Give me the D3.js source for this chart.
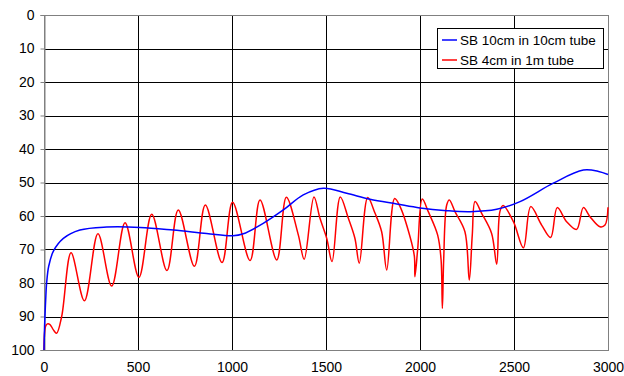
<!DOCTYPE html>
<html lang="en">
<head>
  <meta charset="UTF-8">
  <title>SB tube response</title>
  <script src="https://d3js.org/d3.v7.min.js"></script>
  <style>
    body { margin: 0; background: #fff; }
    svg text { font-family: Arial, "Liberation Sans", sans-serif; fill: #000; }
  </style>
</head>
<body>
<div id="chart"></div>
<script>
  // tick labels
  var xTicks = [0, 500, 1000, 1500, 2000, 2500, 3000];
  var yTicks = [0, 10, 20, 30, 40, 50, 60, 70, 80, 90, 100];

  // series: [x, value]
  var seriesNames = ["SB 10cm in 10cm tube", "SB 4cm in 1m tube"];
  var seriesColors = ["#0000ff", "#ff0000"];

  var blueData = [
    [0, 100], [3, 93], [5, 90], [9, 85], [14, 80], [25, 75], [50, 70.5], [103, 66.7],
    [191, 64.2], [333, 63.3], [511, 63.4], [688, 64.2], [865, 65.2], [1005, 65.9],
    [1060, 65.3], [1166, 62.2], [1273, 58.2], [1379, 53.7], [1486, 51.7], [1610, 53.2],
    [1734, 55], [1876, 56.4], [2000, 57.6], [2142, 58.4], [2266, 58.7], [2408, 58],
    [2532, 55.7], [2709, 50.2], [2869, 46.3], [2950, 46.7], [3000, 47.6]
  ];

  var redData = [
    [0, 100], [8, 93], [18, 92.2], [32, 92.4], [50, 94], [67, 95], [94, 90], [144, 71],
    [215, 85.3], [287, 65.3], [360, 80.9], [431, 62], [505, 78.3], [573, 59.5],
    [654, 76.3], [714, 58.2], [800, 75], [858, 56.7], [947, 73.9], [1003, 55.9],
    [1096, 73.3], [1149, 55.2], [1238, 73.1], [1289, 54.4], [1353, 65.7], [1384, 72.9],
    [1436, 54.3], [1468, 60.7], [1504, 66.7], [1532, 73.6], [1576, 54.3], [1619, 60.7],
    [1654, 66.7], [1677, 74.1], [1722, 54.5], [1761, 59.2], [1796, 64.7], [1823, 76.1],
    [1865, 54.8], [1894, 57.2], [1947, 66.2], [1970, 72], [1973, 78.1], [1988, 69.7],
    [2012, 54.9], [2044, 58.7], [2094, 65.7], [2112, 73], [2119, 87.6], [2126, 73],
    [2142, 56.7], [2156, 55.2], [2186, 58.7], [2239, 64.7], [2262, 79.1], [2278, 65.7],
    [2293, 55.7], [2328, 59.2], [2381, 65.2], [2408, 74.4], [2425, 58.7], [2442, 56.9],
    [2497, 61.7], [2550, 69.5], [2589, 57.2], [2647, 62.7], [2695, 66.4], [2730, 57.5],
    [2780, 61.7], [2833, 64], [2869, 57.5], [2904, 60.2], [2957, 63.2], [2984, 62.7],
    [3000, 57.4]
  ];

  var width = 624, height = 376;
  var plotL = 44, plotR = 608, plotT = 15, plotB = 350;

  var svg = d3.select("#chart").append("svg")
    .attr("width", width)
    .attr("height", height);

  var x = d3.scaleLinear().domain([0, 3000]).range([plotL, plotR]);
  var y = d3.scaleLinear().domain([0, 100]).range([plotT, plotB]);

  // grid
  svg.append("g").selectAll("line")
    .data(yTicks.slice(1, -1))
    .enter().append("line")
    .attr("x1", plotL).attr("x2", plotR)
    .attr("y1", d => Math.round(y(d)) + 0.5).attr("y2", d => Math.round(y(d)) + 0.5)
    .attr("stroke", "#000");

  svg.append("g").selectAll("line")
    .data(xTicks.slice(1, -1))
    .enter().append("line")
    .attr("y1", plotT).attr("y2", plotB)
    .attr("x1", d => Math.round(x(d)) + 0.5).attr("x2", d => Math.round(x(d)) + 0.5)
    .attr("stroke", "#000");

  // plot frame
  svg.append("rect")
    .attr("x", plotL + 0.5).attr("y", plotT + 0.5)
    .attr("width", plotR - plotL).attr("height", plotB - plotT)
    .attr("fill", "none")
    .attr("stroke", "#808080");

  // y axis (left, ticks outside)
  var yAxis = d3.axisLeft(y).tickValues(yTicks).tickSize(4).tickPadding(6);
  var gy = svg.append("g").attr("transform", "translate(" + (plotL + 0.5) + ",0)").call(yAxis);
  gy.select(".domain").attr("stroke", "#808080");
  gy.selectAll(".tick line").attr("stroke", "#808080");
  gy.selectAll("text").attr("font-size", 14).attr("fill", "#000")
    .style("font-family", "Arial, 'Liberation Sans', sans-serif");

  // x axis labels
  var xAxis = d3.axisBottom(x).tickValues(xTicks).tickSize(0).tickPadding(12)
    .tickFormat(d3.format("d"));
  var gx = svg.append("g").attr("transform", "translate(0," + plotB + ")").call(xAxis);
  gx.select(".domain").remove();
  gx.selectAll("text").attr("font-size", 14).attr("fill", "#000")
    .style("font-family", "Arial, 'Liberation Sans', sans-serif");

  // lines
  var line = d3.line()
    .x(d => x(d[0]))
    .y(d => y(d[1]))
    .curve(d3.curveCatmullRom.alpha(0.5));

  svg.append("path").datum(redData)
    .attr("d", line).attr("fill", "none")
    .attr("stroke", seriesColors[1]).attr("stroke-width", 1.5);

  svg.append("path").datum(blueData)
    .attr("d", line).attr("fill", "none")
    .attr("stroke", seriesColors[0]).attr("stroke-width", 1.5);

  // legend
  var lg = svg.append("g").attr("transform", "translate(437,28)");
  lg.append("rect")
    .attr("x", 0.5).attr("y", 0.5).attr("width", 166).attr("height", 40)
    .attr("fill", "#fff").attr("stroke", "#000");
  seriesNames.forEach(function(name, i) {
    lg.append("line")
      .attr("x1", 5).attr("x2", 20)
      .attr("y1", 12 + i * 20).attr("y2", 12 + i * 20)
      .attr("stroke", seriesColors[i]).attr("stroke-width", 1.5);
    lg.append("text")
      .attr("x", 23).attr("y", 17 + i * 20)
      .attr("font-size", 13.5)
      .text(name);
  });
</script>
</body>
</html>
